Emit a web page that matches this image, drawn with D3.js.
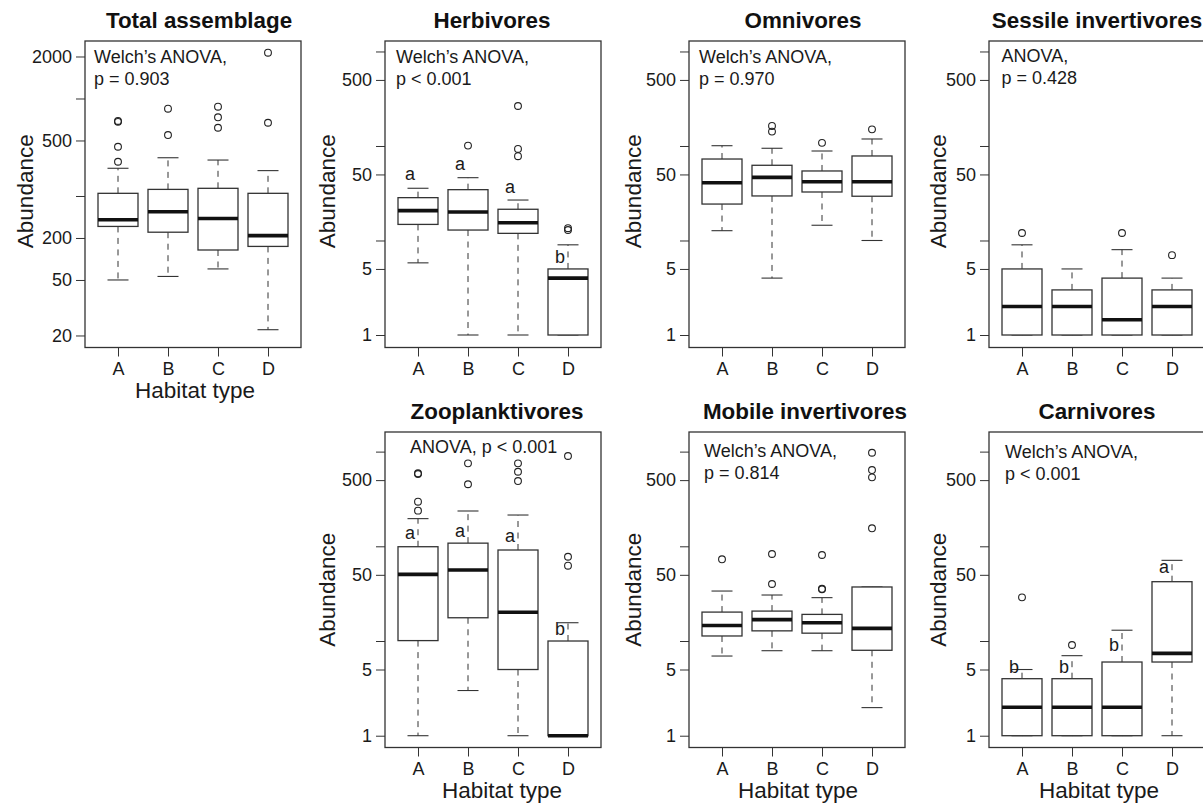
<!DOCTYPE html>
<html>
<head>
<meta charset="utf-8">
<script src="https://cdn.jsdelivr.net/npm/d3@7"></script>
<style>
  body { margin: 0; background: #fff; }
  svg { display: block; }
</style>
</head>
<body>
<svg id="chart" width="1203" height="809"></svg>
<script>
var habitats = ["A", "B", "C", "D"];

var titles = ["Total assemblage", "Herbivores", "Omnivores", "Sessile invertivores",
  "Zooplanktivores", "Mobile invertivores", "Carnivores"];

var notes = [
  ["Welch\u2019s ANOVA,", "p = 0.903"],
  ["Welch\u2019s ANOVA,", "p < 0.001"],
  ["Welch\u2019s ANOVA,", "p = 0.970"],
  ["ANOVA,", "p = 0.428"],
  ["ANOVA, p < 0.001"],
  ["Welch\u2019s ANOVA,", "p = 0.814"],
  ["Welch\u2019s ANOVA,", "p < 0.001"]
];

// [lower whisker, Q1, median, Q3, upper whisker] for habitats A-D
var totalStats = [[50, 121, 135, 209, 316], [53, 110, 154, 223, 376], [60, 82, 138, 227, 362], [22, 87, 104, 209, 304]];
var totalOutliers = [[680, 690, 451, 352], [845, 547], [873, 733, 617], [2130, 670]];

var herbStats = [[5.8, 14.8, 20.7, 28.4, 35.7], [1, 12.9, 20, 34.5, 46.2], [1, 11.9, 15.4, 21.4, 26.8], [1, 1, 4, 5, 9]];
var herbOutliers = [[], [101], [265, 93, 78], [13.5, 12.9]];
var herbLetters = ["a", "a", "a", "b"];
var herbLetterAt = [43.7, 55.7, 31.6, 5.74];

var omniStats = [[12.7, 24.3, 40.9, 72.8, 100.7], [4, 29.6, 46.6, 62.5, 94.6], [14.5, 32.6, 41.9, 54.4, 88.5], [10, 29.4, 41.9, 78.4, 118.6]];
var omniOutliers = [[], [163, 142], [108], [150]];

var sessStats = [[1, 1, 2, 5, 9], [1, 1, 2, 3, 5], [1, 1, 1.45, 4, 8], [1, 1, 2, 3, 4]];
var sessOutliers = [[12], [], [12], [7]];

var zooStats = [[1, 10.1, 50.6, 99, 196], [3, 17.6, 56.2, 108, 236], [1, 5, 20.1, 91.4, 214], [1, 1, 1, 10, 15.6]];
var zooOutliers = [[590, 580, 296, 238], [752, 452], [752, 613, 489], [899, 77.6, 62.4]];
var zooLetters = ["a", "a", "a", "b"];
var zooLetterAt = [118.6, 126, 112, 11.6];

var mobStats = [[6.94, 11.3, 14.6, 20.2, 33.7], [7.9, 12.8, 16.8, 20.7, 30.6], [7.9, 12.1, 15.6, 19.1, 28.7], [1.98, 7.98, 13.6, 37.2, 37.2]];
var mobOutliers = [[72.9], [82.9, 40], [81, 35.2, 35.6], [973, 639, 535, 155]];

var carnStats = [[1, 1, 2, 4, 5], [1, 1, 2, 4, 7], [1, 1, 2, 6, 13], [1, 6, 7.4, 42.3, 71.1]];
var carnOutliers = [[28.9], [9.07], [], []];
var carnLetters = ["b", "b", "b", "a"];
var carnLetterAt = [4.56, 4.56, 7.9, 52.6];

// y axis ticks and labels (log axes)
var totalTicks = [20, 50, 100, 200, 500, 1000, 2000];
var totalTickLabels = ["20", "50", "200", "", "500", "", "2000"];
var guildTicks = [1, 5, 10, 50, 100, 500, 1000];
var guildTickLabels = ["1", "5", "", "50", "", "500", ""];

// axis limits
var totalLimits = [16.4, 2583];
var topLimits = [0.7375, 1291];
var bottomLimits = [0.7507, 1611];

// layout
var font = '"Liberation Sans", Arial, Helvetica, sans-serif';
var colLeft = [85, 385, 689, 989], panelW = 216;
var rowTop = [41, 432], rowBottom = [347.5, 747.5];
var ylabOffset = [-52, -50, -48, -43];
var ylabShift = [-3, 0];

var panels = [
  {stats: totalStats, out: totalOutliers, ticks: totalTicks, labels: totalTickLabels, lim: totalLimits, col: 0, row: 0, titleDx: 6, noteDx: 9, noteDy: 22, xlab: 2},
  {stats: herbStats, out: herbOutliers, ticks: guildTicks, labels: guildTickLabels, lim: topLimits, col: 1, row: 0, titleDx: -1, noteDx: 11, noteDy: 22, letters: herbLetters, letterAt: herbLetterAt},
  {stats: omniStats, out: omniOutliers, ticks: guildTicks, labels: guildTickLabels, lim: topLimits, col: 2, row: 0, titleDx: 6, noteDx: 10, noteDy: 22},
  {stats: sessStats, out: sessOutliers, ticks: guildTicks, labels: guildTickLabels, lim: topLimits, col: 3, row: 0, titleDx: 0, noteDx: 12.5, noteDy: 21},
  {stats: zooStats, out: zooOutliers, ticks: guildTicks, labels: guildTickLabels, lim: bottomLimits, col: 1, row: 1, titleDx: 4, noteDx: 25, noteDy: 21, xlab: 9, letters: zooLetters, letterAt: zooLetterAt},
  {stats: mobStats, out: mobOutliers, ticks: guildTicks, labels: guildTickLabels, lim: bottomLimits, col: 2, row: 1, titleDx: 8, noteDx: 15, noteDy: 25, xlab: 1},
  {stats: carnStats, out: carnOutliers, ticks: guildTicks, labels: guildTickLabels, lim: bottomLimits, col: 3, row: 1, titleDx: 0, noteDx: 16, noteDy: 26, xlab: 2, letters: carnLetters, letterAt: carnLetterAt}
];

var svg = d3.select("#chart").attr("font-family", font);

panels.forEach(function(p, k) {
  var left = colLeft[p.col], right = left + panelW;
  var top = rowTop[p.row], bottom = rowBottom[p.row];
  var x = d3.scaleLinear().domain([0.34, 4.66]).range([left, right]);
  var y = d3.scaleLog().domain(p.lim).range([bottom, top]);
  var g = svg.append("g");

  // y axis
  var ya = g.append("g")
    .attr("transform", "translate(" + left + ",0)")
    .call(d3.axisLeft(y)
      .tickValues(p.ticks)
      .tickFormat(function(d) { return p.labels[p.ticks.indexOf(d)]; })
      .tickSize(9)
      .tickPadding(4));
  ya.select(".domain").remove();
  ya.attr("font-family", font).attr("font-size", 18);
  ya.selectAll("line").attr("stroke", "#333");
  ya.selectAll("text").attr("fill", "#1a1a1a");

  // x axis
  var xa = g.append("g")
    .attr("transform", "translate(0," + bottom + ")")
    .call(d3.axisBottom(x)
      .tickValues([1, 2, 3, 4])
      .tickFormat(function(d) { return habitats[d - 1]; })
      .tickSize(9)
      .tickPadding(6));
  xa.select(".domain").remove();
  xa.attr("font-family", font).attr("font-size", 18);
  xa.selectAll("line").attr("stroke", "#333");
  xa.selectAll("text").attr("fill", "#1a1a1a");

  var bw = x(1.4) - x(1), cw = x(1.21) - x(1);

  p.stats.forEach(function(s, i) {
    var cx = x(i + 1);
    // whiskers
    [[s[1], s[0]], [s[3], s[4]]].forEach(function(w) {
      g.append("line")
        .attr("x1", cx).attr("x2", cx)
        .attr("y1", y(w[0])).attr("y2", y(w[1]))
        .attr("stroke", "#333")
        .attr("stroke-width", 1)
        .attr("stroke-dasharray", "6,5.5");
    });
    // staples
    [s[0], s[4]].forEach(function(v) {
      g.append("line")
        .attr("x1", cx - cw).attr("x2", cx + cw)
        .attr("y1", y(v)).attr("y2", y(v))
        .attr("stroke", "#333")
        .attr("stroke-width", 1.1);
    });
    // box
    g.append("rect")
      .attr("x", cx - bw)
      .attr("width", 2 * bw)
      .attr("y", y(s[3]))
      .attr("height", y(s[1]) - y(s[3]))
      .attr("fill", "#fff")
      .attr("stroke", "#333")
      .attr("stroke-width", 1.3);
    // median
    g.append("line")
      .attr("x1", cx - bw).attr("x2", cx + bw)
      .attr("y1", y(s[2])).attr("y2", y(s[2]))
      .attr("stroke", "#111")
      .attr("stroke-width", 3.6);
    // outliers
    p.out[i].forEach(function(v) {
      g.append("circle")
        .attr("cx", cx)
        .attr("cy", y(v))
        .attr("r", 3.4)
        .attr("fill", "none")
        .attr("stroke", "#222")
        .attr("stroke-width", 1.1);
    });
    // significance letters
    if (p.letters) {
      g.append("text")
        .attr("x", cx - 3)
        .attr("y", y(p.letterAt[i]))
        .attr("text-anchor", "end")
        .attr("font-size", 18)
        .attr("fill", "#1a1a1a")
        .text(p.letters[i]);
    }
  });

  // test annotation
  notes[k].forEach(function(line, j) {
    g.append("text")
      .attr("x", left + p.noteDx)
      .attr("y", top + p.noteDy + j * 21.5)
      .attr("font-size", 18)
      .attr("fill", "#1a1a1a")
      .text(line);
  });

  // frame
  g.append("rect")
    .attr("x", left).attr("y", top)
    .attr("width", panelW).attr("height", bottom - top)
    .attr("fill", "none")
    .attr("stroke", "#333")
    .attr("stroke-width", 1.3);

  // title
  g.append("text")
    .attr("x", (left + right) / 2 + p.titleDx)
    .attr("y", top - 13)
    .attr("text-anchor", "middle")
    .attr("font-size", 22.4)
    .attr("font-weight", "bold")
    .attr("fill", "#111")
    .text(titles[k]);

  // y label
  g.append("text")
    .attr("transform", "translate(" + (left + ylabOffset[p.col]) + "," + ((top + bottom) / 2 + ylabShift[p.row]) + ")rotate(-90)")
    .attr("text-anchor", "middle")
    .attr("font-size", 22.5)
    .attr("fill", "#1a1a1a")
    .text("Abundance");

  // x label
  if (p.xlab !== undefined) {
    g.append("text")
      .attr("x", (left + right) / 2 + p.xlab)
      .attr("y", bottom + 50)
      .attr("text-anchor", "middle")
      .attr("font-size", 22.5)
      .attr("fill", "#1a1a1a")
      .text("Habitat type");
  }
});
</script>
</body>
</html>
